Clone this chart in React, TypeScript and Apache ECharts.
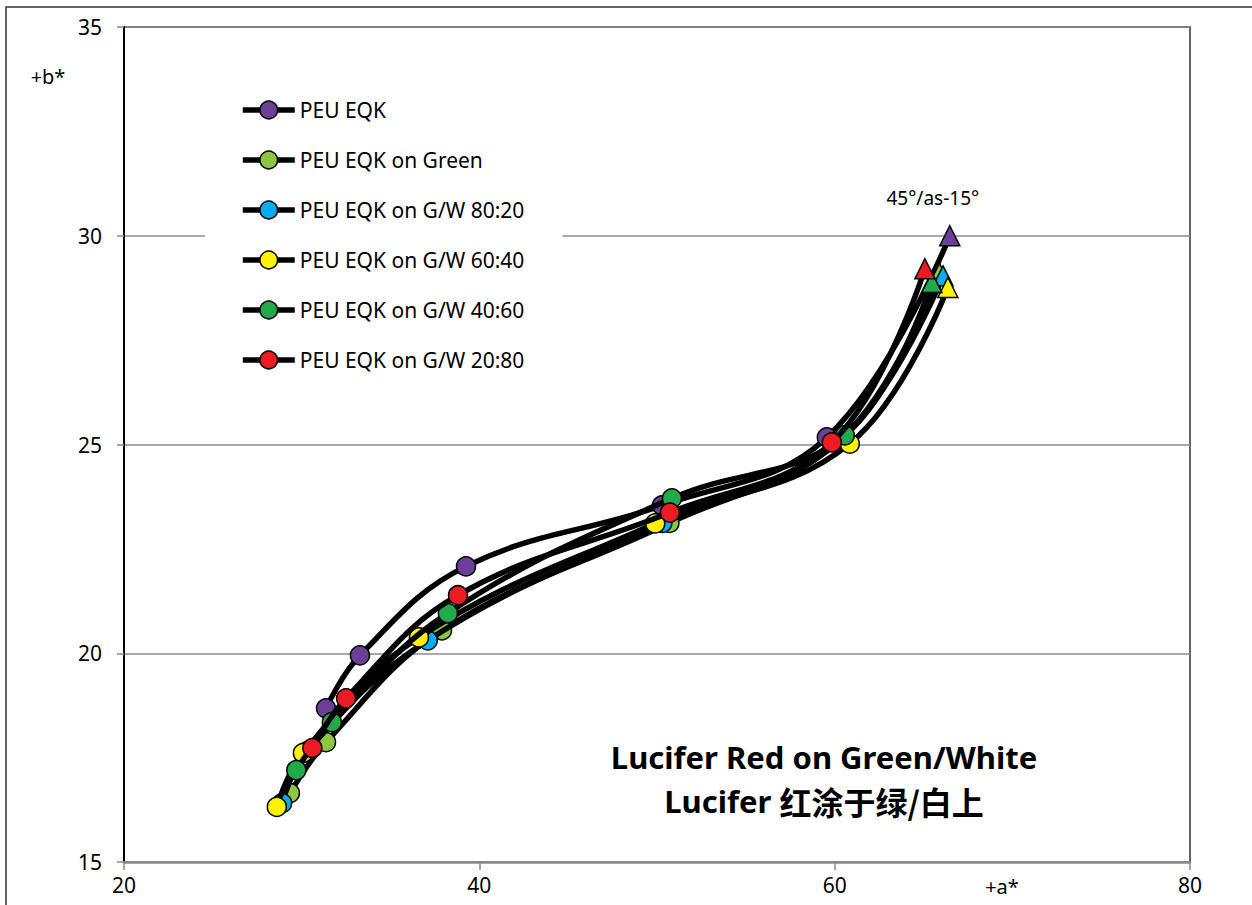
import React, { useEffect, useRef } from "react";
import * as echarts from "echarts";

const seriesNames = [
  "PEU EQK",
  "PEU EQK on Green",
  "PEU EQK on G/W 80:20",
  "PEU EQK on G/W 60:40",
  "PEU EQK on G/W 40:60",
  "PEU EQK on G/W 20:80",
];
const seriesColors = ["#6b3f98", "#8dc63f", "#00aeef", "#fff200", "#22a94b", "#ed1c24"];

const purple = [[31.37, 18.68], [33.28, 19.95], [39.25, 22.08], [50.28, 23.54], [59.56, 25.17], [66.48, 30.0]];
const lightGreen = [[29.34, 16.65], [31.37, 17.87], [37.9, 20.55], [50.7, 23.12], [60.4, 25.15], [65.9, 29.1]];
const blue = [[28.9, 16.41], [30.3, 17.65], [37.1, 20.31], [50.3, 23.12], [60.3, 25.1], [66.1, 29.04]];
const yellow = [[28.6, 16.32], [30.07, 17.61], [36.6, 20.38], [49.9, 23.11], [60.85, 25.02], [66.37, 28.76]];
const green = [[29.7, 17.2], [31.7, 18.35], [38.23, 20.96], [50.84, 23.71], [60.57, 25.22], [65.47, 28.88]];
const red = [[30.6, 17.73], [32.5, 18.92], [38.8, 21.39], [50.73, 23.37], [59.84, 25.05], [65.08, 29.21]];
const allSeries = [purple, lightGreen, blue, yellow, green, red];

const endLabel = "45°/as-15°";
const xTicks = { min: 20, max: 80, interval: 20 };
const yTicks = { min: 15, max: 35, interval: 5 };
const xName = "+a*";
const yName = "+b*";
const titleLine1 = "Lucifer Red on Green/White";
const titleLine2Latin = "Lucifer ";
const titleLine2Cjk = "红涂于绿/白上";

const FONT = "'Noto Sans', 'Noto Sans CJK SC', sans-serif";

export default function App() {
  const ref = useRef<HTMLDivElement>(null);
  useEffect(() => {
    if (!ref.current) return;
    const chart = echarts.init(ref.current, undefined, { renderer: "svg" });
    const series = allSeries.map((pts, si) => ({
      type: "line",
      name: seriesNames[si],
      smooth: 0.4,
      symbol: "circle",
      symbolSize: 19,
      showAllSymbol: true,
      lineStyle: { color: "#000", width: 5.5 },
      itemStyle: { color: seriesColors[si], borderColor: "#000", borderWidth: 1.5 },
      emphasis: { disabled: true },
      z: 2 + si,
      data: pts.map((p, i) => {
        const last = i === pts.length - 1;
        const d: any = { value: p };
        if (last) {
          d.symbol = "triangle";
          d.symbolSize = 20;
          if (si === 0) {
            d.label = {
              show: true,
              formatter: endLabel,
              position: "top",
              offset: [-17, -13],
              fontSize: 19,
              color: "#000",
              fontFamily: FONT,
            };
          }
        }
        return d;
      }),
    }));
    chart.setOption({
      animation: false,
      backgroundColor: "#fff",
      grid: {
        left: 124,
        right: 62,
        top: 27,
        bottom: 43,
        show: true,
        borderColor: "#333",
        borderWidth: 1.5,
      },
      legend: {
        orient: "vertical",
        left: 205,
        top: 80,
        padding: [19, 38, 12, 35],
        backgroundColor: "#fff",
        itemWidth: 52,
        itemHeight: 22,
        itemGap: 28,
        data: seriesNames,
        textStyle: { fontSize: 21, color: "#000", fontFamily: FONT, lineHeight: 22 },
        lineStyle: { width: 5.5, color: "#000" },
        itemStyle: { borderColor: "#000", borderWidth: 1.5 },
        selectedMode: false,
      },
      xAxis: {
        type: "value",
        min: xTicks.min,
        max: xTicks.max,
        interval: xTicks.interval,
        axisLine: { show: true, onZero: false, lineStyle: { color: "#8a8a8a", width: 2.5 } },
        axisTick: { show: true, length: 8, lineStyle: { color: "#8a8a8a", width: 1.5 } },
        axisLabel: { fontSize: 21, color: "#000", margin: 12, fontFamily: FONT },
        splitLine: { show: false },
      },
      yAxis: {
        type: "value",
        min: yTicks.min,
        max: yTicks.max,
        interval: yTicks.interval,
        axisLine: { show: true, onZero: false, lineStyle: { color: "#000", width: 2 } },
        axisTick: { show: true, length: 7, lineStyle: { color: "#8a8a8a", width: 1.5 } },
        axisLabel: { fontSize: 21, color: "#000", margin: 22, fontFamily: FONT },
        splitLine: { show: true, lineStyle: { color: "#8c8c8c", width: 1.5 } },
      },
      graphic: [
        {
          type: "rect",
          z: -10,
          shape: { x: 6, y: 7, width: 1260, height: 920 },
          style: { fill: "none", stroke: "#333", lineWidth: 1.5 },
        },
        {
          type: "text",
          x: 48,
          y: 76,
          style: { text: yName, fontSize: 20, fontFamily: FONT, fill: "#000", align: "center", verticalAlign: "middle" },
        },
        {
          type: "text",
          x: 1002,
          y: 886,
          style: { text: xName, fontSize: 20, fontFamily: FONT, fill: "#000", align: "center", verticalAlign: "middle" },
        },
        {
          type: "text",
          x: 824,
          y: 779,
          z: 100,
          style: {
            text: `{t|${titleLine1}}\n{a|${titleLine2Latin}}{b|${titleLine2Cjk}}`,
            align: "center",
            verticalAlign: "middle",
            fill: "#000",
            rich: {
              t: { fontSize: 31, lineHeight: 44, fontWeight: "bold", fontFamily: FONT, fill: "#000", align: "center" },
              a: { fontSize: 31, lineHeight: 44, fontWeight: "bold", fontFamily: FONT, fill: "#000", align: "center" },
              b: { fontSize: 32, lineHeight: 44, fontWeight: "bold", fontFamily: "'Noto Sans CJK SC', sans-serif", fill: "#000", align: "center" },
            },
          },
        },
      ],
      series,
    });
    return () => chart.dispose();
  }, []);
  return (
    <div
      ref={ref}
      style={{ position: "fixed", left: 0, top: 0, width: 1252, height: 905, background: "#fff" }}
    />
  );
}
